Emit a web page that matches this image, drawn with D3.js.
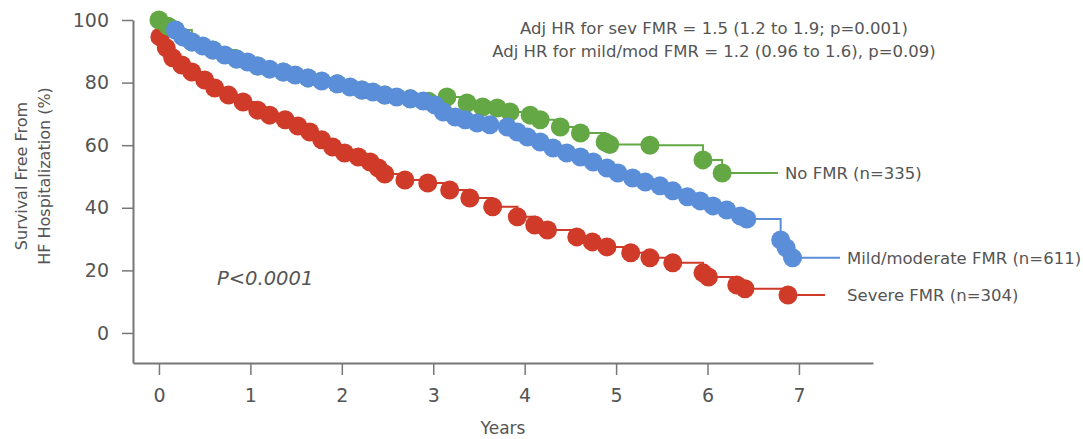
<!DOCTYPE html>
<html>
<head>
<meta charset="utf-8">
<script src="https://cdn.jsdelivr.net/npm/d3@7"></script>
<style>
  body { margin: 0; background: #fff; }
  text { font-family: "DejaVu Sans", sans-serif; fill: #555; }
</style>
</head>
<body>
<div id="chart"></div>
<script>
// Kaplan-Meier points: [years, survival %]
const severePts = [
  [0.01, 94.6], [0.08, 91.1], [0.15, 87.9], [0.25, 85.6], [0.36, 83.4], [0.5, 80.8],
  [0.61, 78.3], [0.76, 76.0], [0.92, 73.8], [1.08, 71.2], [1.21, 69.6], [1.38, 68.1],
  [1.52, 66.1], [1.65, 64.2], [1.78, 61.7], [1.9, 59.4], [2.03, 57.5], [2.18, 56.2],
  [2.31, 54.6], [2.4, 52.7], [2.47, 50.8], [2.69, 48.9], [2.94, 47.9], [3.18, 45.7],
  [3.4, 43.1], [3.65, 40.3], [3.92, 37.1], [4.11, 34.5], [4.25, 32.9], [4.57, 30.7],
  [4.74, 29.1], [4.9, 27.5], [5.16, 25.6], [5.37, 24.0], [5.62, 22.4], [5.95, 19.2],
  [6.01, 17.9], [6.32, 15.3], [6.41, 14.1], [6.88, 12.1]
];
const mildPts = [
  [0.18, 96.8], [0.26, 94.6], [0.36, 93.0], [0.48, 91.7], [0.59, 90.4], [0.72, 88.8],
  [0.85, 87.5], [0.97, 86.6], [1.08, 85.3], [1.21, 84.3], [1.36, 83.4], [1.49, 82.4],
  [1.63, 81.5], [1.78, 80.5], [1.95, 79.6], [2.09, 78.6], [2.22, 77.6], [2.34, 77.0],
  [2.47, 76.0], [2.6, 75.4], [2.75, 74.8], [2.89, 74.1], [3.02, 72.8], [3.11, 70.6],
  [3.24, 69.0], [3.35, 68.1], [3.48, 67.1], [3.62, 66.5], [3.81, 65.8], [3.92, 64.2],
  [4.03, 62.6], [4.17, 61.0], [4.31, 59.1], [4.46, 57.5], [4.61, 56.2], [4.75, 54.6],
  [4.9, 52.7], [5.02, 51.1], [5.18, 49.5], [5.32, 48.2], [5.48, 47.0], [5.62, 45.4],
  [5.78, 43.5], [5.92, 42.2], [6.06, 40.6], [6.21, 39.3], [6.36, 37.4], [6.43, 36.4],
  [6.8, 29.7], [6.86, 27.2], [6.93, 24.0]
];
// no-FMR curve runs underneath the blue band until ~3 years
const noPts = [
  [0, 100], [0.1, 98.0], [0.18, 96.8], [0.36, 93.0], [0.59, 90.4], [0.85, 87.5],
  [1.08, 85.3], [1.36, 83.4], [1.63, 81.5], [1.95, 79.6], [2.22, 77.6], [2.47, 76.0],
  [2.75, 74.8], [2.95, 74.0], [3.15, 75.4], [3.37, 73.5],
  [3.54, 72.2], [3.7, 71.9], [3.84, 70.6], [4.06, 69.6], [4.17, 68.1], [4.39, 65.8],
  [4.61, 63.9], [4.88, 61.0], [4.93, 60.2], [5.37, 60.0], [5.95, 55.3], [6.16, 51.1]
];

const series = [
  { name: "Severe FMR (n=304)", pts: severePts, color: "#cf3b28", labelX: 847, tailX: 825 },
  { name: "No FMR (n=335)", pts: noPts, color: "#63a845", labelX: 785, tailX: 778 },
  { name: "Mild/moderate FMR (n=611)", pts: mildPts, color: "#5b8ed9", labelX: 847, tailX: 840 }
];

const xTicks = [0, 1, 2, 3, 4, 5, 6, 7];
const yTicks = [0, 20, 40, 60, 80, 100];
const hrLines = [
  "Adj HR for sev FMR = 1.5 (1.2 to 1.9; p=0.001)",
  "Adj HR for mild/mod FMR = 1.2 (0.96 to 1.6), p=0.09)"
];

const width = 1083, height = 439;
const svg = d3.select("#chart").append("svg")
  .attr("width", width).attr("height", height);

const x = d3.scaleLinear().domain([-0.284, 7.81]).range([133, 873]);
const y = d3.scaleLinear().domain([-9.6, 100]).range([363, 20]);

// axes
const xAxis = svg.append("g")
  .attr("transform", "translate(0,363)")
  .call(d3.axisBottom(x).tickValues(xTicks).tickSize(12).tickSizeOuter(0).tickPadding(14));
const yAxis = svg.append("g")
  .attr("transform", "translate(133,0)")
  .call(d3.axisLeft(y).tickValues(yTicks).tickSize(11).tickSizeOuter(0).tickPadding(13));

[xAxis, yAxis].forEach(function (g) {
  g.select(".domain").attr("stroke", "#777").attr("stroke-width", 2);
  g.selectAll(".tick line").attr("stroke", "#777").attr("stroke-width", 1.5);
  g.selectAll(".tick text").style("font-size", "19px").attr("fill", "#555");
});

svg.append("text")
  .attr("x", 503).attr("y", 434)
  .attr("text-anchor", "middle")
  .style("font-size", "17px")
  .text("Years");

const yTitle = svg.append("text")
  .attr("transform", "translate(27,176) rotate(-90)")
  .attr("text-anchor", "middle")
  .style("font-size", "16px");
yTitle.append("tspan").attr("x", 0).attr("dy", 0).text("Survival Free From");
yTitle.append("tspan").attr("x", 0).attr("dy", 23).text("HF Hospitalization (%)");

// curves
const line = d3.line()
  .x(function (d) { return x(d[0]); })
  .y(function (d) { return y(d[1]); })
  .curve(d3.curveStepAfter);

series.forEach(function (s) {
  const last = s.pts[s.pts.length - 1];
  const g = svg.append("g");
  g.append("path")
    .datum(s.pts.concat([[x.invert(s.tailX), last[1]]]))
    .attr("d", line)
    .attr("fill", "none")
    .attr("stroke", s.color)
    .attr("stroke-width", 2);
  g.selectAll("circle")
    .data(s.pts)
    .enter()
    .append("circle")
    .attr("cx", function (d) { return x(d[0]); })
    .attr("cy", function (d) { return y(d[1]); })
    .attr("r", 9.5)
    .attr("fill", s.color);
  svg.append("text")
    .attr("x", s.labelX)
    .attr("y", y(last[1]))
    .attr("dy", "0.36em")
    .style("font-size", "16.5px")
    .text(s.name);
});

// annotations
svg.append("g").selectAll("text")
  .data(hrLines)
  .enter()
  .append("text")
  .attr("x", 714)
  .attr("y", function (d, i) { return 34 + i * 23; })
  .attr("text-anchor", "middle")
  .style("font-size", "16.5px")
  .text(function (d) { return d; });

svg.append("text")
  .attr("x", 217).attr("y", 285)
  .style("font-size", "19.5px")
  .style("font-style", "italic")
  .text("P<0.0001");
</script>
</body>
</html>
